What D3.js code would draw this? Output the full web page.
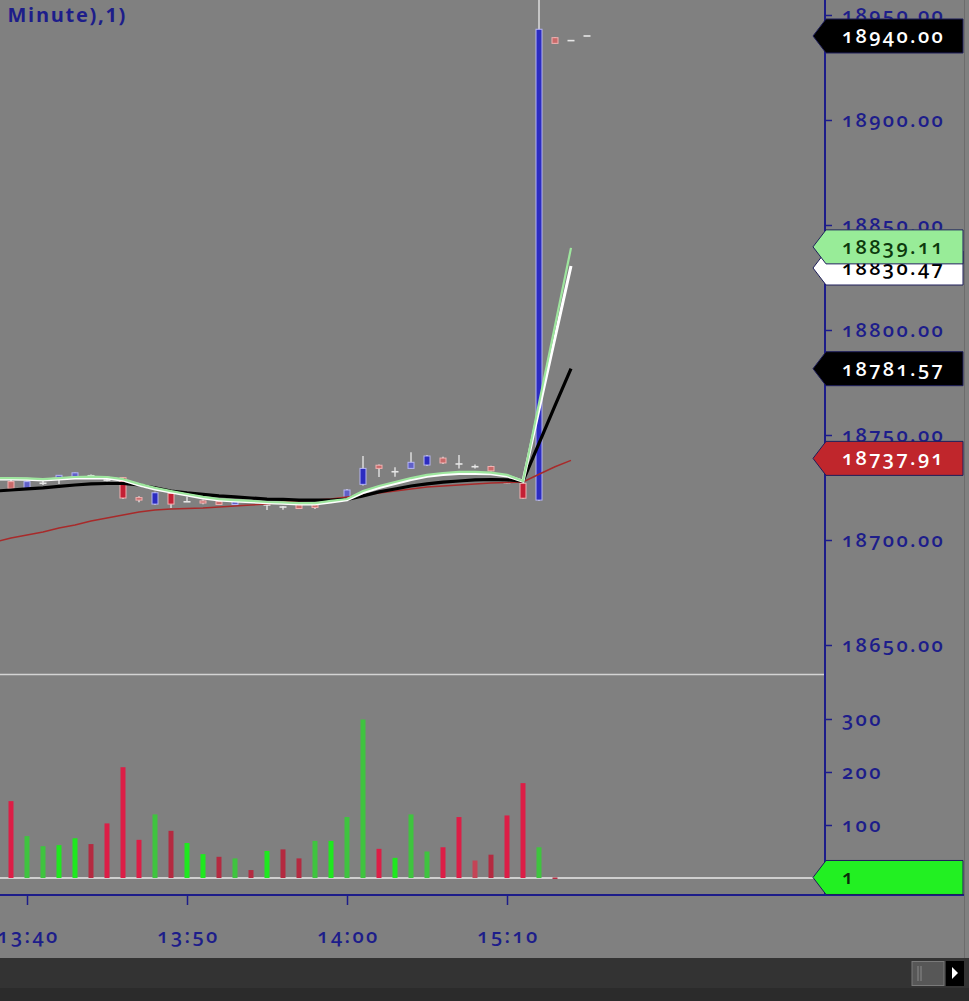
<!DOCTYPE html>
<html><head><meta charset="utf-8">
<script src="https://cdn.jsdelivr.net/npm/d3@7"></script>
<style>
html,body{margin:0;padding:0;background:#808080;overflow:hidden}
svg{display:block}
.ax text{font-family:"Open Sans",sans-serif;font-size:20px;font-weight:600;fill:#1d1d8a;letter-spacing:2.4px;font-variant-numeric:oldstyle-nums}
.tag{font-family:"Open Sans",sans-serif;font-size:20px;font-weight:600;letter-spacing:2.4px;font-variant-numeric:oldstyle-nums}
</style></head><body>
<svg id="c" width="969" height="1001"></svg>
<script>
// ---- data ----
const times = ["13:38","13:39","13:40","13:41","13:42","13:43","13:44","13:45","13:46","13:47","13:48","13:49",
  "13:50","13:51","13:52","13:53","13:54","13:55","13:56","13:57","13:58","13:59","14:00","14:01","14:02","14:03",
  "14:04","14:05","14:06","14:07","14:08","14:09","15:10","15:11","15:12","15:13","15:14","15:15"];
const openP  = [null,18727.8,18724.6,18727.2,18728.9,18729.9,18730.7,18728.6,18729.7,18720.2,18717.1,18722.2,18718.2,18718.6,18718.3,18716.9,18718.1,18716.7,18715.8,18717.5,18717.0,18718.8,18720.3,18726.5,18735.6,18732.5,18734.1,18735.7,18739.0,18736.2,18735.0,18735.0,18727.3,18727.0,18719.0,18939.2,18937.8,18940.0];
const highP  = [null,18728.6,18728.2,18728.1,18731.0,18732.2,18731.2,18729.0,18730.0,18720.8,18723.0,18722.6,18720.6,18719.2,18718.6,18718.5,18718.4,18717.6,18716.2,18717.8,18717.3,18719.2,18724.3,18740.0,18736.0,18734.6,18741.8,18740.5,18739.7,18740.5,18736.0,18735.3,18727.6,18727.3,18990.0,18939.5,18937.8,18940.0];
const lowP   = [null,18724.2,18724.2,18726.2,18726.7,18729.6,18730.2,18728.0,18719.5,18718.0,18716.7,18715.2,18718.1,18717.0,18716.7,18716.7,18717.6,18714.3,18714.4,18714.8,18714.8,18718.3,18720.0,18726.0,18730.0,18730.1,18733.9,18735.2,18736.2,18734.1,18734.0,18732.6,18727.0,18719.5,18718.6,18936.3,18937.8,18940.0];
const closeP = [null,18724.6,18727.8,18727.0,18730.8,18732.0,18730.6,18728.5,18720.0,18719.0,18722.5,18717.1,18718.2,18717.6,18716.9,18718.3,18718.0,18716.7,18715.7,18715.0,18715.5,18718.8,18723.8,18734.1,18734.1,18732.5,18737.0,18740.0,18736.7,18736.2,18734.9,18732.9,18727.3,18719.9,18943.2,18936.5,18937.8,18940.0];
const volume = [null,145,79,60,62,75,64,103,209,72,120,89,66,45,40,37,15,51,54,37,70,70,115,299,55,38,120,50,58,115,33,44,118,179,58,1,null,null];
const volTone= [null,"r","g","g","G","G","R","r","r","r","g","R","G","G","R","g","R","G","R","R","g","G","g","g","r","G","g","g","r","r","P","R","r","r","g","R",null,null];
const maGreen= [18729.5,18729.5,18729.3,18729.0,18729.5,18730.0,18730.2,18730.0,18729.0,18726.7,18724.8,18723.3,18721.9,18720.5,18719.5,18719.0,18718.6,18718.1,18717.9,18717.6,18717.6,18718.6,18719.5,18723.3,18725.7,18727.6,18729.5,18731.0,18731.9,18732.4,18732.4,18732.1,18731.0,18728.1,18765.1,18802.0,18839.11,null];
const maWhite= [18729.1,18729.0,18728.9,18728.6,18729.0,18729.5,18729.7,18729.5,18728.5,18726.2,18724.3,18722.8,18721.4,18720.0,18719.1,18718.6,18718.2,18717.7,18717.5,18717.2,18717.2,18718.1,18719.1,18722.6,18725.0,18726.9,18728.8,18730.3,18731.2,18731.7,18731.7,18731.5,18730.5,18728.0,18762.2,18796.3,18830.47,null];
const maBlack= [18723.3,18723.8,18724.3,18724.8,18725.5,18726.2,18726.7,18726.9,18726.9,18726.2,18724.8,18723.3,18722.4,18721.7,18721.0,18720.5,18720.0,18719.5,18719.3,18719.0,18719.0,18719.0,18719.3,18721.0,18722.9,18724.3,18725.7,18726.7,18727.6,18728.1,18728.6,18728.8,18728.6,18728.1,18746.0,18764.0,18781.57,null];
const maRed  = [18699.05,18700.95,18702.4,18703.8,18705.7,18707.1,18709.0,18710.5,18711.9,18713.3,18714.3,18714.8,18715.0,18715.2,18715.7,18716.2,18716.7,18717.1,18718.1,18718.6,18719.0,18719.5,18720.5,18721.4,18722.4,18723.3,18724.3,18725.2,18725.7,18726.2,18726.7,18727.1,18727.4,18727.6,18731.3,18734.9,18737.91,null];
const priceTicks = [18650,18700,18750,18800,18850,18900,18950];
const volTicks = [100,200,300];
const timeTicks = ["13:40","13:50","14:00","15:10"];
const titleText = "(1 Minute),1)";

// ---- layout ----
const svg = d3.select("#c");
const AX = 825, PTOP = 0, PBOT = 674, VTOP = 675, VBOT = 878, XAXY = 895;
const x = d3.scalePoint().domain(times).range([-5, -5 + 16*(times.length-1)]);
const y = d3.scaleLinear().domain([18636.19, 18957.14]).range([PBOT, PTOP]);
const vy = d3.scaleLinear().domain([0, 383]).range([VBOT, VTOP]);

svg.append("rect").attr("width",969).attr("height",1001).attr("fill","#808080");
const defs = svg.append("defs");
defs.append("clipPath").attr("id","cp").append("rect").attr("x",0).attr("y",PTOP).attr("width",AX).attr("height",PBOT-PTOP);
defs.append("clipPath").attr("id","cv").append("rect").attr("x",0).attr("y",VTOP).attr("width",AX).attr("height",VBOT-VTOP+2);

// title
svg.append("text").attr("x",127).attr("y",22).attr("text-anchor","end")
  .attr("font-family","Open Sans, sans-serif").attr("font-size",20).attr("font-weight",700)
  .attr("letter-spacing",1.7).attr("fill","#1d1d8a").text(titleText);

// pane separators
svg.append("line").attr("x1",0).attr("x2",AX).attr("y1",PBOT+0.5).attr("y2",PBOT+0.5).attr("stroke","#d4d4d4").attr("stroke-width",1.5);
svg.append("line").attr("x1",0).attr("x2",815).attr("y1",vy(0)).attr("y2",vy(0)).attr("stroke","#cfcfcf").attr("stroke-width",2);

// candles
const bars = times.map((t,i)=>({t,o:openP[i],h:highP[i],l:lowP[i],c:closeP[i],v:volume[i],tone:volTone[i]}));
const gp = svg.append("g").attr("clip-path","url(#cp)");
const cb = bars.filter(d=>d.o!=null);
gp.selectAll("line.wick").data(cb).join("line").attr("class","wick")
  .attr("x1",d=>x(d.t)).attr("x2",d=>x(d.t)).attr("y1",d=>y(d.h)).attr("y2",d=>y(d.l))
  .attr("stroke","#dcdcdc").attr("stroke-width",1.5);
cb.forEach(d=>{
  const dy = Math.abs(y(d.o)-y(d.c));
  if (dy < 1) {
    gp.append("line").attr("x1",x(d.t)-3.5).attr("x2",x(d.t)+3.5).attr("y1",y(d.c)).attr("y2",y(d.c))
      .attr("stroke","#e6e6e6").attr("stroke-width",1.6);
  } else {
    const up = d.c > d.o;
    gp.append("rect").attr("x",x(d.t)-3).attr("y",y(Math.max(d.o,d.c))).attr("width",6).attr("height",Math.max(2,dy))
      .attr("fill", up ? (dy<8?"#6060c8":"#2c2cc0") : (dy<8?"#c86a6a":"#c42034"))
      .attr("stroke", up ? "#b4b4f4" : "#f2b0b0").attr("stroke-width",1);
  }
});

// MA lines
const line = d3.line().defined(d=>d.v!=null).x(d=>x(d.t)).y(d=>y(d.v));
const ser = arr => times.map((t,i)=>({t,v:arr[i]}));
gp.append("path").attr("d",line(ser(maRed))).attr("fill","none").attr("stroke","#a82a2a").attr("stroke-width",1.5);
gp.append("path").attr("d",line(ser(maBlack))).attr("fill","none").attr("stroke","#000").attr("stroke-width",3.2);
gp.append("path").attr("d",line(ser(maWhite))).attr("fill","none").attr("stroke","#ffffff").attr("stroke-width",3);
gp.append("path").attr("d",line(ser(maGreen))).attr("fill","none").attr("stroke","#9ee69e").attr("stroke-width",2.2);

// volume
const toneColor = {g:"#3fc43f",G:"#1fe81f",r:"#dc1e46",R:"#b42a40",P:"#c44456"};
const gv = svg.append("g").attr("clip-path","url(#cv)");
gv.selectAll("rect").data(bars.filter(d=>d.v!=null)).join("rect")
  .attr("x",d=>x(d.t)-2.5).attr("width",5)
  .attr("y",d=>vy(d.v)).attr("height",d=>Math.max(1.5,vy(0)-vy(d.v)))
  .attr("fill",d=>toneColor[d.tone]);

// axes
const navy = "#1d1d8a";
const pa = svg.append("g").attr("class","ax").attr("transform",`translate(${AX},0)`)
  .call(d3.axisRight(y).tickValues(priceTicks).tickSize(7).tickPadding(10).tickFormat(d3.format(".2f")));
const va = svg.append("g").attr("class","ax").attr("transform",`translate(${AX},0)`)
  .call(d3.axisRight(vy).tickValues(volTicks).tickSize(7).tickPadding(10).tickFormat(d3.format("d")));
const xa = svg.append("g").attr("class","ax").attr("transform",`translate(0,${XAXY})`)
  .call(d3.axisBottom(x).tickValues(timeTicks).tickSize(10).tickPadding(24));
[pa,va,xa].forEach(g=>{g.select(".domain").remove(); g.selectAll("line").attr("stroke",navy).attr("stroke-width",1.5);});
xa.selectAll("text").attr("dx",1);
svg.append("line").attr("x1",AX).attr("x2",AX).attr("y1",0).attr("y2",XAXY).attr("stroke",navy).attr("stroke-width",2);
svg.append("line").attr("x1",0).attr("x2",964).attr("y1",XAXY).attr("y2",XAXY).attr("stroke",navy).attr("stroke-width",2);
svg.append("line").attr("x1",964.5).attr("x2",964.5).attr("y1",0).attr("y2",958).attr("stroke","#6c6c6c").attr("stroke-width",1);

// tags
function tag(cy, txt, fill, tc){
  const h = 17, L = 813, B = 826, R = 963;
  svg.append("path").attr("d",`M${L},${cy} L${B},${cy-h} L${R},${cy-h} L${R},${cy+h} L${B},${cy+h} Z`)
    .attr("fill",fill).attr("stroke","#1e1e5a").attr("stroke-width",1);
  svg.append("text").attr("class","tag").attr("x",842).attr("y",cy+7).attr("fill",tc).text(txt);
}
const last = a => a.filter(v=>v!=null).slice(-1)[0];
tag(y(last(closeP)), last(closeP).toFixed(2), "#000", "#fff");
tag(y(last(maWhite))+2, last(maWhite).toFixed(2), "#fff", "#000");
tag(y(last(maGreen))-1, last(maGreen).toFixed(2), "#98ec98", "#0d3a0d");
tag(y(last(maBlack)), last(maBlack).toFixed(2), "#000", "#fff");
tag(y(last(maRed))-2, last(maRed).toFixed(2), "#c0262c", "#fff");
tag(vy(last(volume)), String(last(volume)), "#22f022", "#0a2a0a");

// bottom bar
svg.append("rect").attr("x",0).attr("y",958).attr("width",969).attr("height",30).attr("fill","#333333");
svg.append("rect").attr("x",0).attr("y",988).attr("width",969).attr("height",13).attr("fill","#2b2b2b");
svg.append("rect").attr("x",912).attr("y",961.5).attr("width",32).attr("height",24).attr("fill","#575757").attr("stroke","#7a7a7a");
svg.append("line").attr("x1",918).attr("x2",918).attr("y1",966).attr("y2",981).attr("stroke","#8a8a8a");
svg.append("line").attr("x1",921).attr("x2",921).attr("y1",966).attr("y2",981).attr("stroke","#8a8a8a");
svg.append("rect").attr("x",946).attr("y",961).attr("width",18).attr("height",25).attr("fill","#000");
svg.append("path").attr("d","M952,967 L958,973 L952,979 Z").attr("fill","#fff");
</script>
</body></html>
